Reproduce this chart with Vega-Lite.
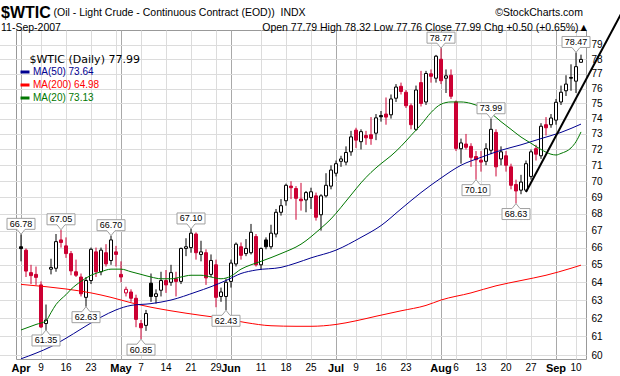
{
"$schema": "https://vega.github.io/schema/vega-lite/v6.json",
"width": 570,
"height": 329,
"autosize": {"type": "none"},
"padding": {"left": 16, "top": 30, "right": 34, "bottom": 17},
"background": "#ffffff",
"config": {"view": {"stroke": "#999999", "strokeWidth": 1}, "font": "Liberation Sans"},
"title": {
  "text": "$WTIC",
  "subtitle": [
    "\u200b\u00a0\u00a0\u00a0\u00a0\u00a0\u00a0\u00a0\u00a0\u00a0\u00a0\u00a0\u00a0\u00a0\u00a0\u00a0\u00a0\u00a0\u00a0(Oil - Light Crude - Continuous Contract (EOD))\u00a0\u00a0INDX\u00a0\u00a0\u00a0\u00a0\u00a0\u00a0\u00a0\u00a0\u00a0\u00a0\u00a0\u00a0\u00a0\u00a0\u00a0\u00a0\u00a0\u00a0\u00a0\u00a0\u00a0\u00a0\u00a0\u00a0\u00a0\u00a0\u00a0\u00a0\u00a0\u00a0\u00a0\u00a0\u00a0\u00a0\u00a0\u00a0\u00a0\u00a0\u00a0\u00a0\u00a0\u00a0\u00a0\u00a0\u00a0\u00a0\u00a0\u00a0\u00a0\u00a0\u00a0\u00a0\u00a0\u00a0\u00a0\u00a0\u00a0\u00a0\u00a0\u00a0\u00a0\u00a0\u00a0\u00a0\u00a0©StockCharts.com",
    "11-Sep-2007\u00a0\u00a0\u00a0\u00a0\u00a0\u00a0\u00a0\u00a0\u00a0\u00a0\u00a0\u00a0\u00a0\u00a0\u00a0\u00a0\u00a0\u00a0\u00a0\u00a0\u00a0\u00a0\u00a0\u00a0\u00a0\u00a0\u00a0\u00a0\u00a0\u00a0\u00a0\u00a0\u00a0\u00a0\u00a0\u00a0\u00a0\u00a0\u00a0\u00a0\u00a0\u00a0\u00a0\u00a0\u00a0\u00a0\u00a0\u00a0\u00a0\u00a0\u00a0\u00a0\u00a0\u00a0\u00a0\u00a0\u00a0\u00a0\u00a0\u00a0\u00a0\u00a0\u00a0\u00a0\u00a0\u00a0\u00a0\u00a0\u00a0Open 77.79 High 78.32 Low 77.76 Close 77.99 Chg +0.50 (+0.65%)\u25b2"
  ],
  "anchor": "start",
  "frame": "group",
  "orient": "top",
  "offset": 0,
  "dx": -15,
  "dy": 24,
  "font": "Liberation Sans",
  "fontSize": 16,
  "fontWeight": "bold",
  "color": "#000000",
  "subtitleFont": "Liberation Sans",
  "subtitleFontSize": 10.5,
  "subtitleColor": "#000000",
  "subtitlePadding": -13,
  "subtitleLineHeight": 15.5
},
"datasets": {
  "px": [
    {"date":"2007-04-02","open":66.05,"high":66.78,"low":65.2,"close":65.94},
    {"date":"2007-04-03","open":65.85,"high":65.95,"low":64.3,"close":64.64},
    {"date":"2007-04-04","open":64.55,"high":65.0,"low":63.9,"close":64.38},
    {"date":"2007-04-05","open":64.45,"high":64.9,"low":63.85,"close":64.28},
    {"date":"2007-04-09","open":63.85,"high":64.05,"low":61.45,"close":61.51},
    {"date":"2007-04-10","open":61.7,"high":62.75,"low":61.35,"close":61.89},
    {"date":"2007-04-11","open":64.75,"high":65.35,"low":64.45,"close":64.85},
    {"date":"2007-04-12","open":64.8,"high":66.8,"low":64.6,"close":66.35},
    {"date":"2007-04-13","open":66.45,"high":67.05,"low":66.0,"close":66.3},
    {"date":"2007-04-16","open":66.1,"high":66.6,"low":65.4,"close":65.65},
    {"date":"2007-04-17","open":65.65,"high":65.8,"low":64.4,"close":64.65},
    {"date":"2007-04-18","open":64.6,"high":65.3,"low":64.3,"close":64.4},
    {"date":"2007-04-19","open":64.3,"high":64.5,"low":63.2,"close":63.35},
    {"date":"2007-04-20","open":63.15,"high":64.3,"low":62.63,"close":64.1},
    {"date":"2007-04-23","open":64.1,"high":66.0,"low":63.9,"close":65.9},
    {"date":"2007-04-24","open":65.75,"high":66.0,"low":64.3,"close":64.6},
    {"date":"2007-04-25","open":64.6,"high":66.0,"low":64.4,"close":65.85},
    {"date":"2007-04-26","open":65.7,"high":66.2,"low":64.9,"close":65.05},
    {"date":"2007-04-27","open":65.25,"high":66.7,"low":65.0,"close":66.45},
    {"date":"2007-04-30","open":65.75,"high":66.1,"low":64.9,"close":65.6},
    {"date":"2007-05-01","open":64.45,"high":65.2,"low":64.0,"close":64.3},
    {"date":"2007-05-02","open":63.4,"high":63.75,"low":63.2,"close":63.6},
    {"date":"2007-05-03","open":63.45,"high":63.6,"low":62.9,"close":63.1},
    {"date":"2007-05-04","open":63.1,"high":63.3,"low":61.5,"close":61.93},
    {"date":"2007-05-07","open":61.7,"high":61.9,"low":60.85,"close":61.47},
    {"date":"2007-05-08","open":61.6,"high":62.45,"low":61.3,"close":62.25},
    {"date":"2007-05-09","open":63.95,"high":64.5,"low":62.9,"close":63.2},
    {"date":"2007-05-10","open":63.2,"high":63.6,"low":62.8,"close":63.35},
    {"date":"2007-05-11","open":63.55,"high":64.6,"low":63.2,"close":64.1},
    {"date":"2007-05-14","open":64.1,"high":64.7,"low":63.4,"close":63.85},
    {"date":"2007-05-15","open":64.0,"high":65.0,"low":63.8,"close":64.55},
    {"date":"2007-05-16","open":64.2,"high":64.6,"low":63.2,"close":64.05},
    {"date":"2007-05-17","open":64.05,"high":66.0,"low":63.9,"close":65.95},
    {"date":"2007-05-18","open":65.95,"high":66.55,"low":65.5,"close":66.05},
    {"date":"2007-05-21","open":66.0,"high":67.1,"low":65.7,"close":66.85},
    {"date":"2007-05-22","open":66.8,"high":66.9,"low":65.3,"close":65.7},
    {"date":"2007-05-23","open":65.6,"high":66.4,"low":65.2,"close":65.75},
    {"date":"2007-05-24","open":65.7,"high":65.9,"low":63.85,"close":64.25},
    {"date":"2007-05-25","open":64.45,"high":65.6,"low":64.3,"close":65.25},
    {"date":"2007-05-29","open":65.0,"high":65.3,"low":62.6,"close":63.15},
    {"date":"2007-05-30","open":63.2,"high":63.7,"low":62.9,"close":63.45},
    {"date":"2007-05-31","open":63.2,"high":64.2,"low":62.43,"close":64.0},
    {"date":"2007-06-01","open":64.05,"high":65.3,"low":63.7,"close":65.1},
    {"date":"2007-06-04","open":65.05,"high":66.3,"low":64.9,"close":66.2},
    {"date":"2007-06-05","open":66.05,"high":66.3,"low":65.3,"close":65.55},
    {"date":"2007-06-06","open":65.65,"high":66.5,"low":65.5,"close":65.95},
    {"date":"2007-06-07","open":65.7,"high":67.4,"low":65.6,"close":66.9},
    {"date":"2007-06-08","open":66.65,"high":66.8,"low":64.9,"close":65.0},
    {"date":"2007-06-11","open":65.0,"high":66.0,"low":64.7,"close":65.95},
    {"date":"2007-06-12","open":66.45,"high":66.6,"low":65.9,"close":66.05},
    {"date":"2007-06-13","open":66.05,"high":67.35,"low":65.9,"close":66.85},
    {"date":"2007-06-14","open":66.8,"high":68.3,"low":66.6,"close":68.1},
    {"date":"2007-06-15","open":68.1,"high":68.9,"low":67.9,"close":68.5},
    {"date":"2007-06-18","open":68.8,"high":69.85,"low":68.5,"close":69.75},
    {"date":"2007-06-19","open":69.7,"high":70.0,"low":68.9,"close":69.6},
    {"date":"2007-06-20","open":69.55,"high":69.7,"low":67.65,"close":68.95},
    {"date":"2007-06-21","open":68.9,"high":69.9,"low":68.2,"close":68.8},
    {"date":"2007-06-22","open":68.85,"high":69.4,"low":68.1,"close":69.3},
    {"date":"2007-06-25","open":69.0,"high":69.6,"low":68.3,"close":69.35},
    {"date":"2007-06-26","open":69.1,"high":69.3,"low":67.6,"close":67.8},
    {"date":"2007-06-27","open":67.95,"high":69.2,"low":67.0,"close":69.1},
    {"date":"2007-06-28","open":69.1,"high":70.5,"low":69.0,"close":69.75},
    {"date":"2007-06-29","open":69.7,"high":71.0,"low":69.5,"close":70.7},
    {"date":"2007-07-02","open":70.5,"high":71.3,"low":70.3,"close":71.1},
    {"date":"2007-07-03","open":71.25,"high":71.6,"low":70.9,"close":71.4},
    {"date":"2007-07-05","open":71.2,"high":72.2,"low":71.0,"close":71.81},
    {"date":"2007-07-06","open":71.85,"high":73.2,"low":71.6,"close":72.81},
    {"date":"2007-07-09","open":73.25,"high":73.4,"low":72.1,"close":72.6},
    {"date":"2007-07-10","open":72.5,"high":73.3,"low":72.0,"close":73.15},
    {"date":"2007-07-11","open":72.9,"high":73.2,"low":72.3,"close":72.75},
    {"date":"2007-07-12","open":72.95,"high":74.1,"low":72.3,"close":72.7},
    {"date":"2007-07-13","open":73.05,"high":74.3,"low":72.6,"close":74.05},
    {"date":"2007-07-16","open":74.2,"high":74.5,"low":73.8,"close":74.12},
    {"date":"2007-07-17","open":74.3,"high":75.4,"low":73.6,"close":74.1},
    {"date":"2007-07-18","open":74.25,"high":75.6,"low":74.0,"close":75.3},
    {"date":"2007-07-19","open":75.35,"high":76.3,"low":75.1,"close":76.1},
    {"date":"2007-07-20","open":76.15,"high":76.4,"low":75.6,"close":75.8},
    {"date":"2007-07-23","open":75.75,"high":75.9,"low":74.7,"close":74.85},
    {"date":"2007-07-24","open":74.85,"high":75.0,"low":73.3,"close":73.6},
    {"date":"2007-07-25","open":73.3,"high":76.2,"low":73.2,"close":75.9},
    {"date":"2007-07-26","open":76.4,"high":77.2,"low":74.8,"close":75.0},
    {"date":"2007-07-27","open":75.1,"high":77.2,"low":74.9,"close":77.02},
    {"date":"2007-07-30","open":77.0,"high":77.3,"low":76.4,"close":76.83},
    {"date":"2007-07-31","open":76.7,"high":78.3,"low":76.4,"close":78.21},
    {"date":"2007-08-01","open":78.0,"high":78.77,"low":76.3,"close":76.53},
    {"date":"2007-08-02","open":76.7,"high":77.3,"low":75.7,"close":76.86},
    {"date":"2007-08-03","open":76.9,"high":77.3,"low":75.3,"close":75.48},
    {"date":"2007-08-06","open":75.1,"high":75.2,"low":71.9,"close":72.07},
    {"date":"2007-08-07","open":72.05,"high":72.7,"low":71.1,"close":72.42},
    {"date":"2007-08-08","open":72.35,"high":73.0,"low":72.0,"close":72.14},
    {"date":"2007-08-09","open":72.2,"high":72.4,"low":70.9,"close":71.5},
    {"date":"2007-08-10","open":71.55,"high":71.9,"low":70.1,"close":71.35},
    {"date":"2007-08-13","open":71.32,"high":71.9,"low":70.6,"close":71.2},
    {"date":"2007-08-14","open":71.25,"high":72.4,"low":71.0,"close":72.05},
    {"date":"2007-08-15","open":71.95,"high":73.99,"low":71.7,"close":73.3},
    {"date":"2007-08-16","open":73.1,"high":73.3,"low":70.3,"close":70.9},
    {"date":"2007-08-17","open":71.4,"high":72.2,"low":71.0,"close":71.85},
    {"date":"2007-08-20","open":71.6,"high":71.9,"low":70.6,"close":71.0},
    {"date":"2007-08-21","open":70.9,"high":71.1,"low":69.5,"close":69.75},
    {"date":"2007-08-22","open":69.8,"high":70.1,"low":68.63,"close":69.4},
    {"date":"2007-08-23","open":69.45,"high":70.4,"low":69.2,"close":69.95},
    {"date":"2007-08-24","open":69.45,"high":71.3,"low":69.34,"close":71.1},
    {"date":"2007-08-27","open":70.3,"high":72.0,"low":70.1,"close":71.85},
    {"date":"2007-08-28","open":72.05,"high":72.3,"low":71.3,"close":71.7},
    {"date":"2007-08-29","open":71.6,"high":73.7,"low":71.4,"close":73.5},
    {"date":"2007-08-30","open":73.6,"high":74.1,"low":72.9,"close":73.4},
    {"date":"2007-08-31","open":73.6,"high":74.3,"low":73.4,"close":74.04},
    {"date":"2007-09-04","open":73.9,"high":75.3,"low":73.6,"close":75.08},
    {"date":"2007-09-05","open":75.1,"high":76.2,"low":74.9,"close":75.75},
    {"date":"2007-09-06","open":75.85,"high":76.9,"low":75.5,"close":76.3},
    {"date":"2007-09-07","open":76.75,"high":77.65,"low":75.85,"close":76.7},
    {"date":"2007-09-10","open":76.5,"high":78.47,"low":75.7,"close":77.49},
    {"date":"2007-09-11","open":77.79,"high":78.32,"low":77.76,"close":77.99}
  ],
  "ma": [
    {"date":"2007-04-02","series":"MA(200)","value":63.88},
    {"date":"2007-04-10","series":"MA(200)","value":63.75},
    {"date":"2007-04-16","series":"MA(200)","value":63.62},
    {"date":"2007-04-23","series":"MA(200)","value":63.4},
    {"date":"2007-04-27","series":"MA(200)","value":63.15},
    {"date":"2007-05-03","series":"MA(200)","value":62.85},
    {"date":"2007-05-09","series":"MA(200)","value":62.6},
    {"date":"2007-05-15","series":"MA(200)","value":62.4},
    {"date":"2007-05-23","series":"MA(200)","value":62.15},
    {"date":"2007-05-30","series":"MA(200)","value":62.0},
    {"date":"2007-06-06","series":"MA(200)","value":61.75},
    {"date":"2007-06-13","series":"MA(200)","value":61.58},
    {"date":"2007-06-20","series":"MA(200)","value":61.55},
    {"date":"2007-06-25","series":"MA(200)","value":61.55},
    {"date":"2007-07-02","series":"MA(200)","value":61.65},
    {"date":"2007-07-09","series":"MA(200)","value":61.85},
    {"date":"2007-07-13","series":"MA(200)","value":62.1},
    {"date":"2007-07-20","series":"MA(200)","value":62.4},
    {"date":"2007-07-27","series":"MA(200)","value":62.7},
    {"date":"2007-08-01","series":"MA(200)","value":63.0},
    {"date":"2007-08-09","series":"MA(200)","value":63.4},
    {"date":"2007-08-16","series":"MA(200)","value":63.8},
    {"date":"2007-08-23","series":"MA(200)","value":64.1},
    {"date":"2007-08-30","series":"MA(200)","value":64.4},
    {"date":"2007-09-07","series":"MA(200)","value":64.8},
    {"date":"2007-09-11","series":"MA(200)","value":64.98},
    {"date":"2007-04-02","series":"MA(50)","value":59.8},
    {"date":"2007-04-05","series":"MA(50)","value":60.1},
    {"date":"2007-04-11","series":"MA(50)","value":60.45},
    {"date":"2007-04-16","series":"MA(50)","value":60.9},
    {"date":"2007-04-19","series":"MA(50)","value":61.4},
    {"date":"2007-04-25","series":"MA(50)","value":62.05},
    {"date":"2007-04-30","series":"MA(50)","value":62.45},
    {"date":"2007-05-03","series":"MA(50)","value":62.7},
    {"date":"2007-05-09","series":"MA(50)","value":62.8},
    {"date":"2007-05-15","series":"MA(50)","value":63.0},
    {"date":"2007-05-22","series":"MA(50)","value":63.45},
    {"date":"2007-05-25","series":"MA(50)","value":63.75},
    {"date":"2007-05-31","series":"MA(50)","value":64.1},
    {"date":"2007-06-05","series":"MA(50)","value":64.5},
    {"date":"2007-06-08","series":"MA(50)","value":64.7},
    {"date":"2007-06-15","series":"MA(50)","value":64.85},
    {"date":"2007-06-20","series":"MA(50)","value":65.1},
    {"date":"2007-06-25","series":"MA(50)","value":65.4},
    {"date":"2007-07-02","series":"MA(50)","value":65.85},
    {"date":"2007-07-10","series":"MA(50)","value":66.6},
    {"date":"2007-07-16","series":"MA(50)","value":67.3},
    {"date":"2007-07-20","series":"MA(50)","value":68.3},
    {"date":"2007-07-26","series":"MA(50)","value":69.3},
    {"date":"2007-08-01","series":"MA(50)","value":70.2},
    {"date":"2007-08-07","series":"MA(50)","value":71.0},
    {"date":"2007-08-13","series":"MA(50)","value":71.5},
    {"date":"2007-08-17","series":"MA(50)","value":71.95},
    {"date":"2007-08-23","series":"MA(50)","value":72.3},
    {"date":"2007-08-29","series":"MA(50)","value":72.7},
    {"date":"2007-09-05","series":"MA(50)","value":73.1},
    {"date":"2007-09-11","series":"MA(50)","value":73.64},
    {"date":"2007-04-02","series":"MA(20)","value":61.35},
    {"date":"2007-04-05","series":"MA(20)","value":61.65},
    {"date":"2007-04-10","series":"MA(20)","value":61.85},
    {"date":"2007-04-11","series":"MA(20)","value":62.3},
    {"date":"2007-04-12","series":"MA(20)","value":62.75},
    {"date":"2007-04-13","series":"MA(20)","value":63.05},
    {"date":"2007-04-16","series":"MA(20)","value":63.3},
    {"date":"2007-04-17","series":"MA(20)","value":63.6},
    {"date":"2007-04-19","series":"MA(20)","value":64.05},
    {"date":"2007-04-23","series":"MA(20)","value":64.4},
    {"date":"2007-04-25","series":"MA(20)","value":64.6},
    {"date":"2007-04-27","series":"MA(20)","value":64.75},
    {"date":"2007-05-01","series":"MA(20)","value":64.75},
    {"date":"2007-05-03","series":"MA(20)","value":64.6},
    {"date":"2007-05-07","series":"MA(20)","value":64.45},
    {"date":"2007-05-09","series":"MA(20)","value":64.3},
    {"date":"2007-05-11","series":"MA(20)","value":64.2},
    {"date":"2007-05-15","series":"MA(20)","value":64.2},
    {"date":"2007-05-17","series":"MA(20)","value":64.3},
    {"date":"2007-05-21","series":"MA(20)","value":64.4},
    {"date":"2007-05-23","series":"MA(20)","value":64.4},
    {"date":"2007-05-25","series":"MA(20)","value":64.3},
    {"date":"2007-05-30","series":"MA(20)","value":64.2},
    {"date":"2007-06-01","series":"MA(20)","value":64.35},
    {"date":"2007-06-05","series":"MA(20)","value":64.75},
    {"date":"2007-06-07","series":"MA(20)","value":65.0},
    {"date":"2007-06-11","series":"MA(20)","value":65.2},
    {"date":"2007-06-15","series":"MA(20)","value":65.65},
    {"date":"2007-06-21","series":"MA(20)","value":66.2},
    {"date":"2007-06-27","series":"MA(20)","value":67.15},
    {"date":"2007-06-29","series":"MA(20)","value":67.7},
    {"date":"2007-07-03","series":"MA(20)","value":68.4},
    {"date":"2007-07-06","series":"MA(20)","value":69.15},
    {"date":"2007-07-10","series":"MA(20)","value":69.9},
    {"date":"2007-07-12","series":"MA(20)","value":70.55},
    {"date":"2007-07-16","series":"MA(20)","value":71.1},
    {"date":"2007-07-18","series":"MA(20)","value":71.6},
    {"date":"2007-07-20","series":"MA(20)","value":72.2},
    {"date":"2007-07-24","series":"MA(20)","value":72.9},
    {"date":"2007-07-26","series":"MA(20)","value":73.6},
    {"date":"2007-07-30","series":"MA(20)","value":74.4},
    {"date":"2007-08-01","series":"MA(20)","value":74.95},
    {"date":"2007-08-03","series":"MA(20)","value":75.1},
    {"date":"2007-08-07","series":"MA(20)","value":75.1},
    {"date":"2007-08-09","series":"MA(20)","value":75.0},
    {"date":"2007-08-13","series":"MA(20)","value":74.75},
    {"date":"2007-08-15","series":"MA(20)","value":74.35},
    {"date":"2007-08-17","series":"MA(20)","value":73.8},
    {"date":"2007-08-21","series":"MA(20)","value":73.3},
    {"date":"2007-08-23","series":"MA(20)","value":72.8},
    {"date":"2007-08-27","series":"MA(20)","value":72.4},
    {"date":"2007-08-29","series":"MA(20)","value":72.0},
    {"date":"2007-08-31","series":"MA(20)","value":71.7},
    {"date":"2007-09-04","series":"MA(20)","value":71.65},
    {"date":"2007-09-05","series":"MA(20)","value":71.75},
    {"date":"2007-09-07","series":"MA(20)","value":72.1},
    {"date":"2007-09-10","series":"MA(20)","value":72.5},
    {"date":"2007-09-11","series":"MA(20)","value":73.13}
  ],
  "lbl": [
    {"date":"2007-04-02","value":66.78,"kind":"high"},
    {"date":"2007-04-13","value":67.05,"kind":"high"},
    {"date":"2007-04-27","value":66.70,"kind":"high"},
    {"date":"2007-05-21","value":67.10,"kind":"high"},
    {"date":"2007-08-01","value":78.77,"kind":"high"},
    {"date":"2007-08-15","value":73.99,"kind":"high"},
    {"date":"2007-09-10","value":78.47,"kind":"high"},
    {"date":"2007-04-10","value":61.35,"kind":"low"},
    {"date":"2007-04-20","value":62.63,"kind":"low"},
    {"date":"2007-05-07","value":60.85,"kind":"low"},
    {"date":"2007-05-31","value":62.43,"kind":"low"},
    {"date":"2007-08-10","value":70.10,"kind":"low"},
    {"date":"2007-08-22","value":68.63,"kind":"low"}
  ],
  "trend": [
    {"date":"2007-08-24","value":69.34},
    {"date":"2007-09-21","value":81.2}
  ]
},
"encoding": {
  "x": {
    "field": "date",
    "type": "ordinal",
    "scale": {
      "type": "band",
      "domain": ["2007-04-02","2007-04-03","2007-04-04","2007-04-05","2007-04-09","2007-04-10","2007-04-11","2007-04-12","2007-04-13","2007-04-16","2007-04-17","2007-04-18","2007-04-19","2007-04-20","2007-04-23","2007-04-24","2007-04-25","2007-04-26","2007-04-27","2007-04-30",
        "2007-05-01","2007-05-02","2007-05-03","2007-05-04","2007-05-07","2007-05-08","2007-05-09","2007-05-10","2007-05-11","2007-05-14","2007-05-15","2007-05-16","2007-05-17","2007-05-18","2007-05-21","2007-05-22","2007-05-23","2007-05-24","2007-05-25","2007-05-29","2007-05-30","2007-05-31",
        "2007-06-01","2007-06-04","2007-06-05","2007-06-06","2007-06-07","2007-06-08","2007-06-11","2007-06-12","2007-06-13","2007-06-14","2007-06-15","2007-06-18","2007-06-19","2007-06-20","2007-06-21","2007-06-22","2007-06-25","2007-06-26","2007-06-27","2007-06-28","2007-06-29",
        "2007-07-02","2007-07-03","2007-07-05","2007-07-06","2007-07-09","2007-07-10","2007-07-11","2007-07-12","2007-07-13","2007-07-16","2007-07-17","2007-07-18","2007-07-19","2007-07-20","2007-07-23","2007-07-24","2007-07-25","2007-07-26","2007-07-27","2007-07-30","2007-07-31",
        "2007-08-01","2007-08-02","2007-08-03","2007-08-06","2007-08-07","2007-08-08","2007-08-09","2007-08-10","2007-08-13","2007-08-14","2007-08-15","2007-08-16","2007-08-17","2007-08-20","2007-08-21","2007-08-22","2007-08-23","2007-08-24","2007-08-27","2007-08-28","2007-08-29","2007-08-30","2007-08-31",
        "2007-09-04","2007-09-05","2007-09-06","2007-09-07","2007-09-10","2007-09-11","2007-09-12","2007-09-13","2007-09-14","2007-09-17","2007-09-18","2007-09-19","2007-09-20","2007-09-21"],
      "range": [0, 610],
      "paddingInner": 0,
      "paddingOuter": 0.5
    },
    "axis": {
      "values": ["2007-04-02","2007-04-09","2007-04-16","2007-04-23","2007-04-30","2007-05-01","2007-05-07","2007-05-14","2007-05-21","2007-05-29","2007-06-01","2007-06-11","2007-06-18","2007-06-25","2007-07-02","2007-07-09","2007-07-16","2007-07-23","2007-07-30","2007-08-01","2007-08-06","2007-08-13","2007-08-20","2007-08-27","2007-09-04","2007-09-10"],
      "labelExpr": "indexof(['2007-04-02','2007-05-01','2007-06-01','2007-07-02','2007-08-01','2007-09-04'], datum.value) >= 0 ? timeFormat(datetime(2007, toNumber(slice(datum.value, 5, 7)) - 1, 1), '%b') : ((datum.value == '2007-04-30' || datum.value == '2007-07-30') ? '' : '' + toNumber(slice(datum.value, 8)))",
      "labelFontWeight": {"condition": {"test": "indexof(['2007-04-02','2007-05-01','2007-06-01','2007-07-02','2007-08-01','2007-09-04'], datum.value) >= 0", "value": "bold"}, "value": "normal"},
      "labelFontSize": {"condition": {"test": "indexof(['2007-04-02','2007-05-01','2007-06-01','2007-07-02','2007-08-01','2007-09-04'], datum.value) >= 0", "value": 11}, "value": 10},
      "gridColor": {"condition": {"test": "indexof(['2007-04-02','2007-05-01','2007-06-01','2007-07-02','2007-08-01','2007-09-04'], datum.value) >= 0", "value": "#a9a9a9"}, "value": "#dcdcdc"},
      "grid": true,
      "ticks": false,
      "domain": false,
      "labelAngle": 0,
      "labelPadding": 3,
      "labelOverlap": false,
      "labelBound": false,
      "labelFlush": false,
      "labelColor": "#000000",
      "labelFont": "Liberation Sans",
      "title": null
    }
  }
},
"layer": [
  {
    "data": {"name": "px"},
    "transform": [
      {"window": [{"op": "lag", "field": "close", "as": "prev"}], "sort": [{"field": "date", "order": "ascending"}]},
      {"calculate": "datum.prev == null || datum.close >= datum.prev ? 'up' : 'down'", "as": "dir"},
      {"calculate": "datum.close >= datum.open ? 'hollow' : datum.dir", "as": "body"}
    ],
    "layer": [
      {
        "mark": {"type": "rule", "strokeWidth": 1},
        "encoding": {
          "y": {
            "field": "low",
            "type": "quantitative",
            "scale": {"type": "log", "domain": [59.79, 80.05], "nice": false, "zero": false},
            "axis": {
              "orient": "right",
              "values": [60,61,62,63,64,65,66,67,68,69,70,71,72,73,74,75,76,77,78,79],
              "format": "d",
              "grid": true,
              "gridColor": "#dcdcdc",
              "ticks": false,
              "domain": false,
              "labelPadding": 5,
              "labelFontSize": 10,
              "labelFont": "Liberation Sans",
              "labelColor": "#000000",
              "labelOverlap": false,
              "title": null
            }
          },
          "y2": {"field": "high"},
          "stroke": {"field": "dir", "type": "nominal", "scale": {"domain": ["up", "down"], "range": ["#000000", "#cc0033"]}, "legend": null}
        }
      },
      {
        "mark": {"type": "bar", "width": {"band": 0.6}, "strokeWidth": 1, "opacity": 1},
        "encoding": {
          "y": {"field": "open", "type": "quantitative"},
          "y2": {"field": "close"},
          "stroke": {"field": "dir", "type": "nominal", "legend": null},
          "fill": {"field": "body", "type": "nominal", "scale": {"domain": ["hollow", "up", "down"], "range": ["#ffffff", "#000000", "#cc0033"]}, "legend": null}
        }
      }
    ]
  },
  {
    "data": {"name": "ma"},
    "mark": {"type": "line", "strokeWidth": 1, "interpolate": "monotone"},
    "encoding": {
      "y": {"field": "value", "type": "quantitative"},
      "color": {
        "field": "series",
        "type": "nominal",
        "scale": {"domain": ["MA(50)", "MA(200)", "MA(20)"], "range": ["#000090", "#ff0000", "#007700"]},
        "legend": {
          "orient": "none",
          "legendX": 3,
          "legendY": 24,
          "title": "\u200b\u00a0\u00a0\u00a0$WTIC (Daily) 77.99",
          "titleFont": "DejaVu Sans",
          "titleFontSize": 11,
          "titleFontWeight": "normal",
          "titleColor": "#000000",
          "titlePadding": 1,
          "symbolType": "stroke",
          "symbolSize": 81,
          "symbolStrokeWidth": 3,
          "labelFont": "Liberation Sans",
          "labelFontSize": 10,
          "labelOffset": 2,
          "rowPadding": 1,
          "padding": 0,
          "labelExpr": "datum.label == 'MA(50)' ? 'MA(50) 73.64' : (datum.label == 'MA(200)' ? 'MA(200) 64.98' : 'MA(20) 73.13')",
          "labelColor": {"expr": "scale('color', datum.value)"}
        }
      }
    }
  },
  {
    "data": {"name": "trend"},
    "mark": {"type": "line", "color": "#000000", "strokeWidth": 2},
    "encoding": {"y": {"field": "value", "type": "quantitative"}}
  },
  {
    "data": {"name": "lbl"},
    "transform": [{"filter": "datum.kind == 'high'"}],
    "layer": [
      {
        "mark": {"type": "point", "shape": "M0,0L-0.25,-0.3125L-0.875,-0.3125L-0.875,-1L0.875,-1L0.875,-0.3125L0.25,-0.3125Z", "size": 1024, "filled": true, "fill": "#ffffff", "stroke": "#a0a0a0", "strokeWidth": 1, "opacity": 1},
        "encoding": {"y": {"field": "value", "type": "quantitative"}}
      },
      {
        "mark": {"type": "text", "dy": -10.5, "baseline": "middle", "align": "center", "fontSize": 9, "font": "Liberation Sans", "color": "#000000"},
        "encoding": {"y": {"field": "value", "type": "quantitative"}, "text": {"field": "value", "type": "quantitative", "format": ".2f"}}
      }
    ]
  },
  {
    "data": {"name": "lbl"},
    "transform": [{"filter": "datum.kind == 'low'"}],
    "layer": [
      {
        "mark": {"type": "point", "shape": "M0,0L-0.25,0.3125L-0.875,0.3125L-0.875,1L0.875,1L0.875,0.3125L0.25,0.3125Z", "size": 1024, "filled": true, "fill": "#ffffff", "stroke": "#a0a0a0", "strokeWidth": 1, "opacity": 1},
        "encoding": {"y": {"field": "value", "type": "quantitative"}}
      },
      {
        "mark": {"type": "text", "dy": 10.5, "baseline": "middle", "align": "center", "fontSize": 9, "font": "Liberation Sans", "color": "#000000"},
        "encoding": {"y": {"field": "value", "type": "quantitative"}, "text": {"field": "value", "type": "quantitative", "format": ".2f"}}
      }
    ]
  }
]
}
